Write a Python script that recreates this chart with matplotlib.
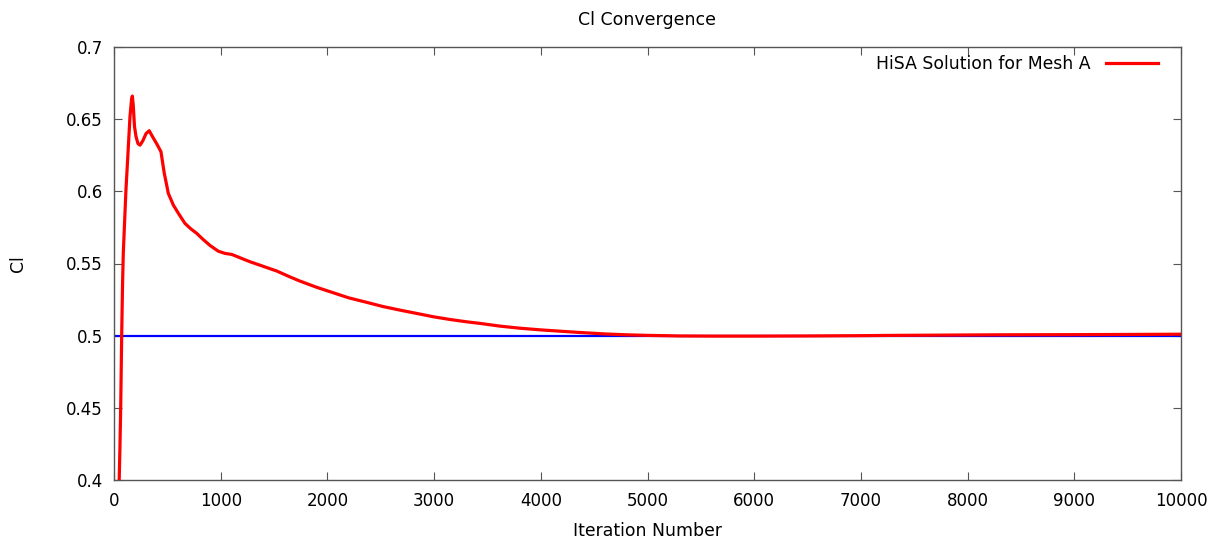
import matplotlib
matplotlib.use("Agg")
import matplotlib.pyplot as plt

iterations = [44, 55, 63, 72, 80, 87, 100, 112, 130, 150, 165, 172, 180, 192, 206, 225, 244,
              270, 300, 330, 360, 400, 440, 470, 509, 556, 610, 665, 720, 775, 830, 900, 978,
              1040, 1103, 1180, 1275, 1400, 1525, 1640, 1743, 1900, 2056, 2200, 2368, 2520,
              2680, 2830, 2993, 3150, 3305, 3430, 3618, 3800, 4000, 4200, 4367, 4600, 4800,
              5000, 5300, 5600, 6000, 6500, 7000, 7300, 7800, 8300, 9000, 9700, 10000]
cl_values = [0.385, 0.42, 0.451, 0.50, 0.535, 0.557, 0.58, 0.601, 0.625, 0.652, 0.664, 0.666,
             0.660, 0.645, 0.638, 0.633, 0.632, 0.635, 0.640, 0.642, 0.638, 0.633, 0.6275,
             0.613, 0.5986, 0.5905, 0.584, 0.5778, 0.574, 0.5709, 0.567, 0.5625, 0.5585,
             0.557, 0.5563, 0.554, 0.5512, 0.548, 0.5448, 0.541, 0.5378, 0.5335, 0.5297,
             0.5262, 0.5231, 0.5202, 0.5177, 0.5155, 0.5131, 0.5112, 0.5096, 0.5085, 0.5066,
             0.5052, 0.5040, 0.5030, 0.5022, 0.5012, 0.5006, 0.5002, 0.4998, 0.4997, 0.4997,
             0.4998, 0.5000, 0.5002, 0.5004, 0.5006, 0.5007, 0.5009, 0.5010]

target_x = [0, 10000]
target_cl = [0.5, 0.5]

x_ticks = [0, 1000, 2000, 3000, 4000, 5000, 6000, 7000, 8000, 9000, 10000]
y_ticks = [0.4, 0.45, 0.5, 0.55, 0.6, 0.65, 0.7]
y_tick_labels = ["0.4", "0.45", "0.5", "0.55", "0.6", "0.65", "0.7"]

plt.rcParams['font.family'] = ['DejaVu Sans']

fig = plt.figure(figsize=(12.19, 5.43), dpi=100)
ax = fig.add_axes([114/1219, 1 - 480/543, (1181 - 114)/1219, (480 - 47)/543])

ax.plot(target_x, target_cl, color='#0000ff', lw=1.6, zorder=2)
ax.plot(iterations, cl_values, color='#ff0000', lw=2.3, label='HiSA Solution for Mesh A', zorder=3)

ax.set_xlim(0, 10000)
ax.set_ylim(0.4, 0.7)
ax.set_xticks(x_ticks)
ax.set_yticks(y_ticks)
ax.set_yticklabels(y_tick_labels)
ax.tick_params(direction='in', length=6, width=0.8, color='#555555', top=True, right=True,
               labelsize=12, pad=8, labelcolor='black')
ax.tick_params(axis='x', pad=9)
for s in ax.spines.values():
    s.set_color('#555555')
    s.set_linewidth(1.0)

ax.set_title('Cl Convergence', fontsize=12.5, pad=16)
ax.set_xlabel('Iteration Number', fontsize=12.4, labelpad=8)
ax.set_ylabel('Cl', fontsize=12.4, labelpad=28)

leg = ax.legend(loc='upper right', frameon=False, markerfirst=False, fontsize=12.4,
                handlelength=3.0, borderaxespad=0.0, handletextpad=0.9,
                bbox_to_anchor=(1 - 16/1067, 1 - 1/433))

fig.savefig('out.png', dpi=100)
